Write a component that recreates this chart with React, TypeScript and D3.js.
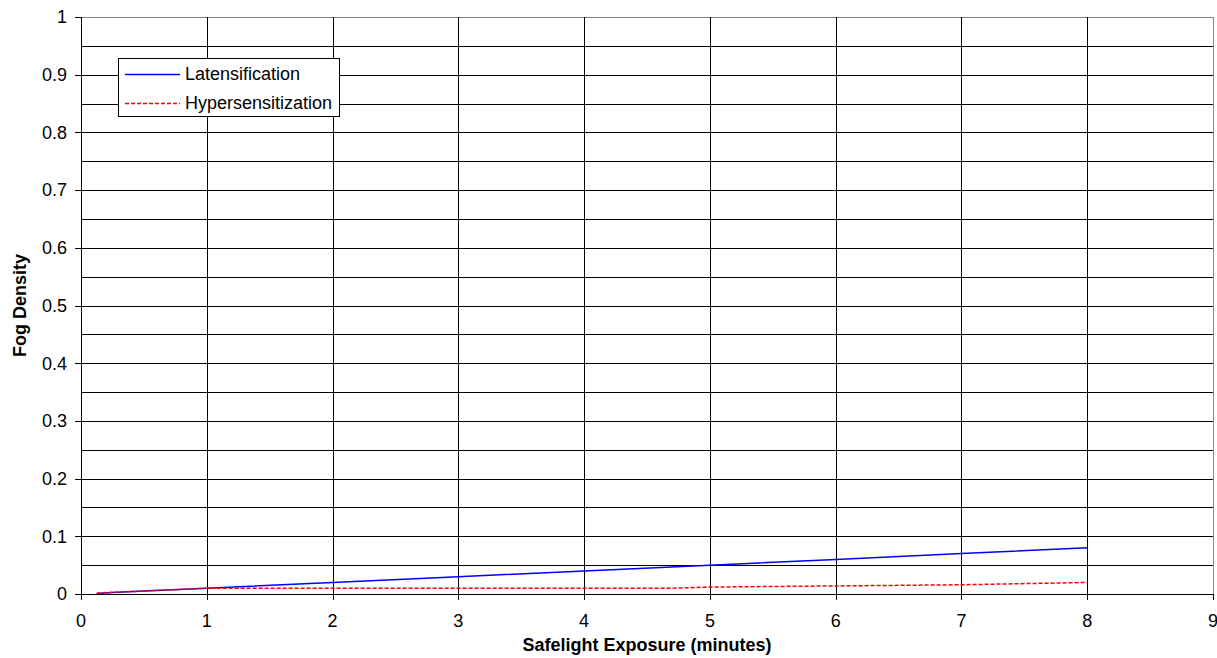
import React from "react";
import * as d3 from "d3";

const xTicks = [0, 1, 2, 3, 4, 5, 6, 7, 8, 9];
const yTicks = [0, 0.1, 0.2, 0.3, 0.4, 0.5, 0.6, 0.7, 0.8, 0.9, 1];
const yGrid = d3.range(0, 1.0001, 0.05);

const latX = [0.125, 0.25, 0.5, 1, 2, 3, 4, 5, 6, 7, 8];
const latY = [0.001, 0.0025, 0.005, 0.01, 0.02, 0.03, 0.04, 0.05, 0.06, 0.07, 0.08];
const hypX = [0.125, 0.25, 0.5, 1, 2, 3, 4, 4.7, 5, 6, 7, 8];
const hypY = [0.0015, 0.003, 0.005, 0.01, 0.01, 0.01, 0.01, 0.01, 0.012, 0.014, 0.016, 0.02];

const W = 1217, H = 658;
const L = 81, R = 1213, T = 17, B = 594;

export default function App() {
  const x = d3.scaleLinear().domain([0, 9]).range([L, R]);
  const y = d3.scaleLinear().domain([0, 1]).range([B, T]);
  const line = d3.line<[number, number]>().x(d => x(d[0])).y(d => y(d[1]));
  const latPts = latX.map((v, i) => [v, latY[i]] as [number, number]);
  const hypPts = hypX.map((v, i) => [v, hypY[i]] as [number, number]);
  const font = "'Liberation Sans', Arial, sans-serif";
  const fs = 18;
  return (
    <svg width={W} height={H} style={{ position: "absolute", left: 0, top: 0 }} fontFamily={font}>
      <rect x={0} y={0} width={W} height={H} fill="#fff" />
      {yGrid.map((v, i) => (
        <line key={"yg" + i} x1={L} x2={R} y1={Math.round(y(v)) + 0.5} y2={Math.round(y(v)) + 0.5}
          stroke={v > 0.99 ? "#888" : "#000"} strokeWidth={1} />
      ))}
      {xTicks.map((v, i) => (
        <line key={"xg" + i} x1={Math.round(x(v)) + 0.5} x2={Math.round(x(v)) + 0.5} y1={T} y2={B}
          stroke={v === 9 ? "#888" : "#000"} strokeWidth={1} />
      ))}
      <line x1={L + 0.5} x2={L + 0.5} y1={T} y2={B + 1} stroke="#000" />
      <line x1={L} x2={R + 1} y1={B + 0.5} y2={B + 0.5} stroke="#000" />
      {yTicks.map((v, i) => (
        <g key={"yt" + i}>
          <line x1={L - 6} x2={L} y1={Math.round(y(v)) + 0.5} y2={Math.round(y(v)) + 0.5} stroke="#000" />
          <text x={L - 14} y={y(v)} dy="0.35em" textAnchor="end" fontSize={fs} fill="#000">
            {d3.format("")(+v.toFixed(1))}
          </text>
        </g>
      ))}
      {xTicks.map((v, i) => (
        <g key={"xt" + i}>
          <line x1={Math.round(x(v)) + 0.5} x2={Math.round(x(v)) + 0.5} y1={B} y2={B + 6} stroke="#000" />
          <text x={x(v)} y={627} textAnchor="middle" fontSize={fs} fill="#000">{v}</text>
        </g>
      ))}
      <path d={line(latPts) || ""} fill="none" stroke="#0000ff" strokeWidth={1.5} />
      <path d={line(hypPts) || ""} fill="none" stroke="#ff0000" strokeWidth={1.5} strokeDasharray="4,2" />
      <text x={(L + R) / 2 + 0} y={651} textAnchor="middle" fontSize={fs} fontWeight="bold" fill="#000">
        Safelight Exposure (minutes)
      </text>
      <text transform={`translate(26,${(T + B) / 2}) rotate(-90)`} textAnchor="middle" fontSize={fs} fontWeight="bold" fill="#000">
        Fog Density
      </text>
      <rect x={118.5} y={58.5} width={221} height={58} fill="#fff" stroke="#000" />
      <line x1={125} x2={180} y1={74.5} y2={74.5} stroke="#0000ff" strokeWidth={1.5} />
      <line x1={125} x2={180} y1={103.5} y2={103.5} stroke="#ff0000" strokeWidth={1.5} strokeDasharray="4,2" />
      <text x={185} y={74} dy="0.35em" fontSize={fs} fill="#000">Latensification</text>
      <text x={185} y={103} dy="0.35em" fontSize={fs} fill="#000">Hypersensitization</text>
    </svg>
  );
}
